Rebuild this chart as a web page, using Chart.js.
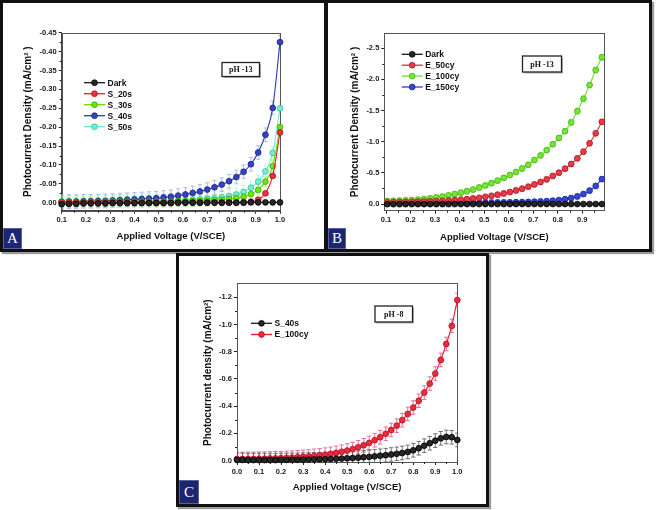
<!DOCTYPE html>
<html><head><meta charset="utf-8"><title>Photocurrent density</title>
<script src="https://cdn.jsdelivr.net/npm/chart.js@4.4.1/dist/chart.umd.min.js"></script>
<style>
html,body{margin:0;padding:0;background:#fff;width:656px;height:510px;overflow:hidden;}
.frame{position:absolute;box-sizing:border-box;border:3px solid #111;background:#fff;box-shadow:2px 2px 1px #9a9a9a;}
.tag{position:absolute;box-sizing:border-box;background:#1c2670;border:1px solid #56639f;color:#fff;font-family:'Liberation Serif','Times New Roman',serif;font-size:15px;display:flex;align-items:center;justify-content:center;}
canvas{position:absolute;left:0;top:0;}
</style></head>
<body>
<div class="frame" style="left:0;top:0;width:327px;height:252px"></div>
<div class="frame" style="left:325px;top:0;width:327px;height:252px"></div>
<div class="frame" style="left:176px;top:253px;width:313px;height:254px"></div>
<div class="tag" style="left:3px;top:228px;width:19px;height:21px">A</div>
<div class="tag" style="left:328px;top:228px;width:18px;height:21px">B</div>
<div class="tag" style="left:179px;top:480px;width:20px;height:24px">C</div>
<canvas id="cA" width="656" height="510"></canvas>
<canvas id="cB" width="656" height="510"></canvas>
<canvas id="cC" width="656" height="510"></canvas>
<script>
const FONT = "'Liberation Sans', Arial, Helvetica, sans-serif";
const SERIF = "'Liberation Serif', 'Times New Roman', serif";

// ---------- Panel A (pH 13, S_ samples) ----------
const voltsA = [0.10,0.13,0.16,0.19,0.22,0.25,0.28,0.31,0.34,0.37,0.40,0.43,0.46,0.49,0.52,0.55,0.58,0.61,0.64,0.67,0.70,0.73,0.76,0.79,0.82,0.85,0.88,0.91,0.94,0.97,1.00];
const darkA = [0.004,0.003,0.003,0.002,0.002,0.002,0.002,0.001,0.001,0.001,0.001,0.001,0.001,0.001,0.001,0.001,0.000,0.000,0.000,0.000,0.000,0.000,0.000,0.000,0.000,0.000,-0.001,-0.001,-0.001,-0.001,-0.001];
const s20A = [-0.001,-0.001,-0.001,-0.001,-0.001,-0.001,-0.001,-0.001,-0.001,-0.001,-0.001,-0.001,-0.001,-0.001,-0.001,-0.001,-0.001,-0.001,-0.001,-0.001,-0.001,-0.001,-0.001,-0.001,-0.001,-0.002,-0.003,-0.008,-0.025,-0.071,-0.186];
const s30A = [-0.002,-0.002,-0.002,-0.002,-0.002,-0.002,-0.003,-0.003,-0.003,-0.003,-0.003,-0.003,-0.003,-0.003,-0.003,-0.003,-0.004,-0.004,-0.005,-0.005,-0.006,-0.007,-0.008,-0.010,-0.012,-0.016,-0.023,-0.034,-0.056,-0.097,-0.200];
const s40A = [-0.002,-0.003,-0.003,-0.004,-0.004,-0.005,-0.005,-0.006,-0.007,-0.008,-0.009,-0.010,-0.011,-0.012,-0.014,-0.016,-0.019,-0.022,-0.026,-0.030,-0.035,-0.041,-0.048,-0.057,-0.068,-0.082,-0.102,-0.133,-0.180,-0.251,-0.425];
const s50A = [-0.004,-0.004,-0.004,-0.004,-0.004,-0.004,-0.004,-0.004,-0.004,-0.004,-0.004,-0.004,-0.005,-0.005,-0.005,-0.006,-0.006,-0.007,-0.008,-0.009,-0.011,-0.012,-0.015,-0.018,-0.022,-0.029,-0.040,-0.056,-0.083,-0.132,-0.250];
const errA = {dark:0.002, s20:0.004, s30:0.014, s40:0.018, s50:0.017};
const xMajorA = [0.1,0.2,0.3,0.4,0.5,0.6,0.7,0.8,0.9,1.0];
const xLabelsA = ["0.1","0.2","0.3","0.4","0.5","0.6","0.7","0.8","0.9","1.0"];
const xMinorA = [0.15,0.25,0.35,0.45,0.55,0.65,0.75,0.85,0.95];
const yMajorA = [-0.45,-0.40,-0.35,-0.30,-0.25,-0.20,-0.15,-0.10,-0.05,0];
const yLabelsA = ["-0.45","-0.40","-0.35","-0.30","-0.25","-0.20","-0.15","-0.10","-0.05","0.00"];
const yMinorA = [-0.425,-0.375,-0.325,-0.275,-0.225,-0.175,-0.125,-0.075,-0.025];

// ---------- Panel B (pH 13, E_ samples) ----------
const voltsB = [0.105,0.130,0.155,0.180,0.205,0.230,0.255,0.280,0.305,0.330,0.355,0.380,0.405,0.430,0.455,0.480,0.505,0.530,0.555,0.580,0.605,0.630,0.655,0.680,0.705,0.730,0.755,0.780,0.805,0.830,0.855,0.880,0.905,0.930,0.955,0.980];
const darkB = [0.003,0.003,0.003,0.002,0.002,0.002,0.002,0.002,0.002,0.002,0.001,0.001,0.001,0.001,0.001,0.001,0.001,0.001,0.001,0.001,0.001,0.001,0.000,0.000,0.000,0.000,0.000,0.000,0.000,0.000,0.000,0.000,0.000,0.000,0.000,0.000];
const e50B = [-0.028,-0.030,-0.032,-0.034,-0.036,-0.038,-0.040,-0.043,-0.047,-0.052,-0.058,-0.064,-0.070,-0.079,-0.089,-0.100,-0.116,-0.132,-0.150,-0.170,-0.192,-0.218,-0.246,-0.278,-0.315,-0.353,-0.396,-0.450,-0.503,-0.567,-0.642,-0.733,-0.840,-0.975,-1.135,-1.320];
const e100B = [-0.048,-0.052,-0.055,-0.059,-0.064,-0.070,-0.080,-0.090,-0.105,-0.120,-0.140,-0.160,-0.182,-0.205,-0.232,-0.265,-0.298,-0.335,-0.375,-0.420,-0.465,-0.515,-0.570,-0.630,-0.705,-0.780,-0.865,-0.960,-1.060,-1.170,-1.310,-1.490,-1.690,-1.910,-2.150,-2.355];
const e150B = [-0.018,-0.018,-0.019,-0.019,-0.019,-0.020,-0.020,-0.020,-0.021,-0.021,-0.021,-0.022,-0.022,-0.022,-0.023,-0.023,-0.024,-0.024,-0.025,-0.026,-0.027,-0.029,-0.031,-0.034,-0.037,-0.041,-0.046,-0.053,-0.063,-0.077,-0.095,-0.122,-0.160,-0.215,-0.290,-0.400];
const errB = {dark:0.02, e50:0.04, e100:0.04, e150:0.04};
const xMajorB = [0.1,0.2,0.3,0.4,0.5,0.6,0.7,0.8,0.9];
const xLabelsB = ["0.1","0.2","0.3","0.4","0.5","0.6","0.7","0.8","0.9"];
const xMinorB = [0.15,0.25,0.35,0.45,0.55,0.65,0.75,0.85,0.95];
const yMajorB = [-2.5,-2.0,-1.5,-1.0,-0.5,0];
const yLabelsB = ["-2.5","-2.0","-1.5","-1.0","-0.5","0.0"];
const yMinorB = [-2.25,-1.75,-1.25,-0.75,-0.25];

// ---------- Panel C (pH 8) ----------
const voltsC = [0.000,0.025,0.050,0.075,0.100,0.125,0.150,0.175,0.200,0.225,0.250,0.275,0.300,0.325,0.350,0.375,0.400,0.425,0.450,0.475,0.500,0.525,0.550,0.575,0.600,0.625,0.650,0.675,0.700,0.725,0.750,0.775,0.800,0.825,0.850,0.875,0.900,0.925,0.950,0.975,1.000];
const s40C = [-0.005,-0.005,-0.004,-0.004,-0.004,-0.004,-0.004,-0.004,-0.005,-0.005,-0.006,-0.006,-0.007,-0.008,-0.009,-0.010,-0.011,-0.012,-0.014,-0.015,-0.017,-0.019,-0.022,-0.025,-0.028,-0.032,-0.036,-0.040,-0.045,-0.050,-0.056,-0.064,-0.076,-0.091,-0.110,-0.128,-0.147,-0.164,-0.174,-0.172,-0.152];
const e100C = [-0.012,-0.012,-0.013,-0.013,-0.014,-0.015,-0.016,-0.017,-0.018,-0.020,-0.022,-0.025,-0.028,-0.031,-0.035,-0.039,-0.044,-0.050,-0.057,-0.065,-0.074,-0.085,-0.098,-0.113,-0.130,-0.150,-0.172,-0.197,-0.225,-0.257,-0.297,-0.343,-0.390,-0.440,-0.500,-0.566,-0.640,-0.740,-0.857,-0.990,-1.180];
const errC = {s40:0.05, e100:0.05};
const xMajorC = [0,0.1,0.2,0.3,0.4,0.5,0.6,0.7,0.8,0.9,1.0];
const xLabelsC = ["0.0","0.1","0.2","0.3","0.4","0.5","0.6","0.7","0.8","0.9","1.0"];
const xMinorC = [0.05,0.15,0.25,0.35,0.45,0.55,0.65,0.75,0.85,0.95];
const yMajorC = [-1.2,-1.0,-0.8,-0.6,-0.4,-0.2,0];
const yLabelsC = ["-1.2","-1.0","-0.8","-0.6","-0.4","-0.2","0.0"];
const yMinorC = [-1.1,-0.9,-0.7,-0.5,-0.3,-0.1];

function pts(xs, ys){ return xs.map((v,i)=>({x:v, y:ys[i]})); }
function series(label, xs, ys, color, fill, edge, err, errColor){
  return {label, data: pts(xs, ys), borderColor: color, backgroundColor: fill, borderWidth: 1.1,
    pointRadius: 2.9, pointHoverRadius: 2.9, pointBackgroundColor: fill, pointBorderColor: edge, pointBorderWidth: 0.8,
    cubicInterpolationMode: 'monotone', clip: false, fill: false, errorBar: err, errorColor: errColor};
}

const extras = {
  id: 'extras',
  beforeDatasetsDraw(chart, args, o) {
    const {ctx, chartArea: ca, scales: {x, y}} = chart;
    ctx.save();
    ctx.strokeStyle = '#555'; ctx.lineWidth = 1;
    ctx.strokeRect(Math.round(ca.left)+0.5, Math.round(ca.top)+0.5, Math.round(ca.right-ca.left), Math.round(ca.bottom-ca.top));
    ctx.beginPath(); ctx.rect(ca.left, ca.top, ca.right-ca.left, ca.bottom-ca.top); ctx.clip();
    chart.data.datasets.slice().reverse().forEach(ds => {
      if (!ds.errorBar) return;
      ctx.strokeStyle = ds.errorColor; ctx.lineWidth = 0.8;
      ds.data.forEach(p => {
        const px = x.getPixelForValue(p.x);
        const y1 = y.getPixelForValue(p.y - ds.errorBar), y2 = y.getPixelForValue(p.y + ds.errorBar);
        ctx.beginPath();
        ctx.moveTo(px, y1); ctx.lineTo(px, y2);
        ctx.moveTo(px-2.2, y1); ctx.lineTo(px+2.2, y1);
        ctx.moveTo(px-2.2, y2); ctx.lineTo(px+2.2, y2);
        ctx.stroke();
      });
    });
    ctx.restore();
  },
  afterDraw(chart, args, o) {
    const {ctx, chartArea: ca, scales: {x, y}} = chart;
    ctx.save();
    ctx.strokeStyle = '#222'; ctx.lineWidth = 1;
    ctx.beginPath();
    (o.minorX || []).forEach(v => { const px = Math.round(x.getPixelForValue(v))+0.5; ctx.moveTo(px, ca.bottom); ctx.lineTo(px, ca.bottom+2); });
    (o.minorY || []).forEach(v => { const py = Math.round(y.getPixelForValue(v))+0.5; ctx.moveTo(ca.left, py); ctx.lineTo(ca.left-2, py); });
    ctx.stroke();
    const L = o.legend;
    chart.data.datasets.forEach((ds, i) => {
      const yy = L.y + i*L.dy;
      ctx.strokeStyle = ds.borderColor; ctx.lineWidth = 1.3;
      ctx.beginPath(); ctx.moveTo(L.x, yy); ctx.lineTo(L.x+L.len, yy); ctx.stroke();
      ctx.beginPath(); ctx.arc(L.x+L.len/2, yy, 2.9, 0, Math.PI*2);
      ctx.fillStyle = ds.pointBackgroundColor; ctx.fill();
      ctx.strokeStyle = ds.pointBorderColor; ctx.lineWidth = 0.8; ctx.stroke();
      ctx.fillStyle = '#111'; ctx.font = 'bold 8.5px ' + FONT; ctx.textAlign = 'left'; ctx.textBaseline = 'middle';
      ctx.fillText(ds.label, L.x+L.len+2.5, yy+0.5);
    });
    const P = o.ph;
    ctx.fillStyle = '#b5b5b5'; ctx.fillRect(P.x+1.5, P.y+1.5, P.w, P.h);
    ctx.fillStyle = '#fff'; ctx.fillRect(P.x, P.y, P.w, P.h);
    ctx.strokeStyle = '#222'; ctx.lineWidth = 1.3; ctx.strokeRect(P.x, P.y, P.w, P.h);
    ctx.fillStyle = '#111'; ctx.font = 'bold 8px ' + SERIF; ctx.textAlign = 'center'; ctx.textBaseline = 'middle';
    ctx.fillText(P.text, P.x+P.w/2, P.y+P.h/2+0.5);
    ctx.restore();
  }
};

function xAxis(min, max, major, labels, title, padBottom){
  return {type:'linear', position:'bottom', min, max, bounds:'data',
    afterBuildTicks: s => { s.ticks = major.map(v => ({value: v})); },
    afterFit: s => { s.height = 32; },
    ticks: {autoSkip:false, maxRotation:0, minRotation:0, padding:2, color:'#1a1a1a', font:{family:FONT, size:7.5, weight:'bold'},
      callback: (v, i) => labels[i]},
    grid: {drawOnChartArea:false, drawTicks:true, tickLength:3, color:'#222', lineWidth:1},
    border: {display:true, color:'#444', width:1},
    title: {display:true, text:title, color:'#111', font:{family:FONT, size:9.5, weight:'bold'}, padding:{top:0, bottom:padBottom}}
  };
}
function yAxis(min, max, major, labels, title, padTop){
  return {type:'linear', position:'left', min, max, reverse:true, bounds:'data',
    afterBuildTicks: s => { s.ticks = major.map(v => ({value: v})); },
    afterFit: s => { s.width = 45; },
    ticks: {autoSkip:false, padding:2, color:'#1a1a1a', font:{family:FONT, size:7.5, weight:'bold'},
      callback: (v, i) => labels[i]},
    grid: {drawOnChartArea:false, drawTicks:true, tickLength:3, color:'#222', lineWidth:1},
    border: {display:true, color:'#444', width:1},
    title: {display:true, text:title, color:'#111', font:{family:FONT, size:10, weight:'bold'}, padding:{top:padTop, bottom:0}}
  };
}
function make(id, datasets, padding, xs, ys, extra){
  return new Chart(document.getElementById(id), {
    type:'line',
    data:{datasets},
    options:{responsive:false, animation:false, devicePixelRatio:1, events:[],
      layout:{padding, autoPadding:false},
      plugins:{legend:{display:false}, tooltip:{enabled:false}, extras: extra},
      scales:{x: xs, y: ys}},
    plugins:[extras]
  });
}

make('cA', [
  series('Dark', voltsA, darkA, '#1a1a1a', '#262626', '#000', errA.dark, '#8a8a8a'),
  series('S_20s', voltsA, s20A, '#e4202a', '#e8323a', '#a8101a', errA.s20, '#f2a0a4'),
  series('S_30s', voltsA, s30A, '#5ee000', '#66e80a', '#3ca800', errA.s30, '#b8f090'),
  series('S_40s', voltsA, s40A, '#2b3bb5', '#3444c0', '#172488', errA.s40, '#a4aee2'),
  series('S_50s', voltsA, s50A, '#66eec8', '#70f0cc', '#38c096', errA.s50, '#b4f2e2')
], {left:16.7, top:32.7, right:376, bottom:267.3},
  xAxis(0.1, 1.0, xMajorA, xLabelsA, 'Applied Voltage (V/SCE)', 0.3),
  yAxis(-0.45, 0.021, yMajorA, yLabelsA, 'Photocurrent Density (mA/cm\u00B2 )', 5.6),
  {legend:{x:84, y:82.7, dy:11, len:21}, ph:{x:222, y:62.5, w:37.5, h:14, text:'pH -13'}, minorX:xMinorA, minorY:yMinorA});

make('cB', [
  series('Dark', voltsB, darkB, '#1a1a1a', '#262626', '#000', errB.dark, '#777'),
  series('E_50cy', voltsB, e50B, '#e0303a', '#e63c46', '#a81822', errB.e50, '#f07a86'),
  series('E_100cy', voltsB, e100B, '#6ee030', '#74e634', '#44b014', errB.e100, '#8ef058'),
  series('E_150cy', voltsB, e150B, '#2a40c8', '#3448d0', '#18289a', errB.e150, '#6a7ee8')
], {left:339.3, top:33.3, right:51.7, bottom:267.3},
  xAxis(0.093, 0.99, xMajorB, xLabelsB, 'Applied Voltage (V/SCE)', 0),
  yAxis(-2.74, 0.107, yMajorB, yLabelsB, 'Photocurrent Density (mA/cm\u00B2 )', 9.7),
  {legend:{x:401.7, y:54.3, dy:10.9, len:21}, ph:{x:522.5, y:56, w:39, h:16, text:'pH -13'}, minorX:xMinorB, minorY:yMinorB});

make('cC', [
  series('S_40s', voltsC, s40C, '#1a1a1a', '#262626', '#000', errC.s40, '#555'),
  series('E_100cy', voltsC, e100C, '#e81c2c', '#ec2a3a', '#b01020', errC.e100, '#e0508a')
], {left:192, top:283.3, right:198.7, bottom:16},
  xAxis(0, 1.0, xMajorC, xLabelsC, 'Applied Voltage (V/SCE)', 0.6),
  yAxis(-1.303, 0.01, yMajorC, yLabelsC, 'Photocurrent density (mA/cm\u00B2)', 10.3),
  {legend:{x:251, y:323.3, dy:11.2, len:21}, ph:{x:375, y:306, w:37.5, h:16, text:'pH -8'}, minorX:xMinorC, minorY:yMinorC});
</script>
</body></html>
